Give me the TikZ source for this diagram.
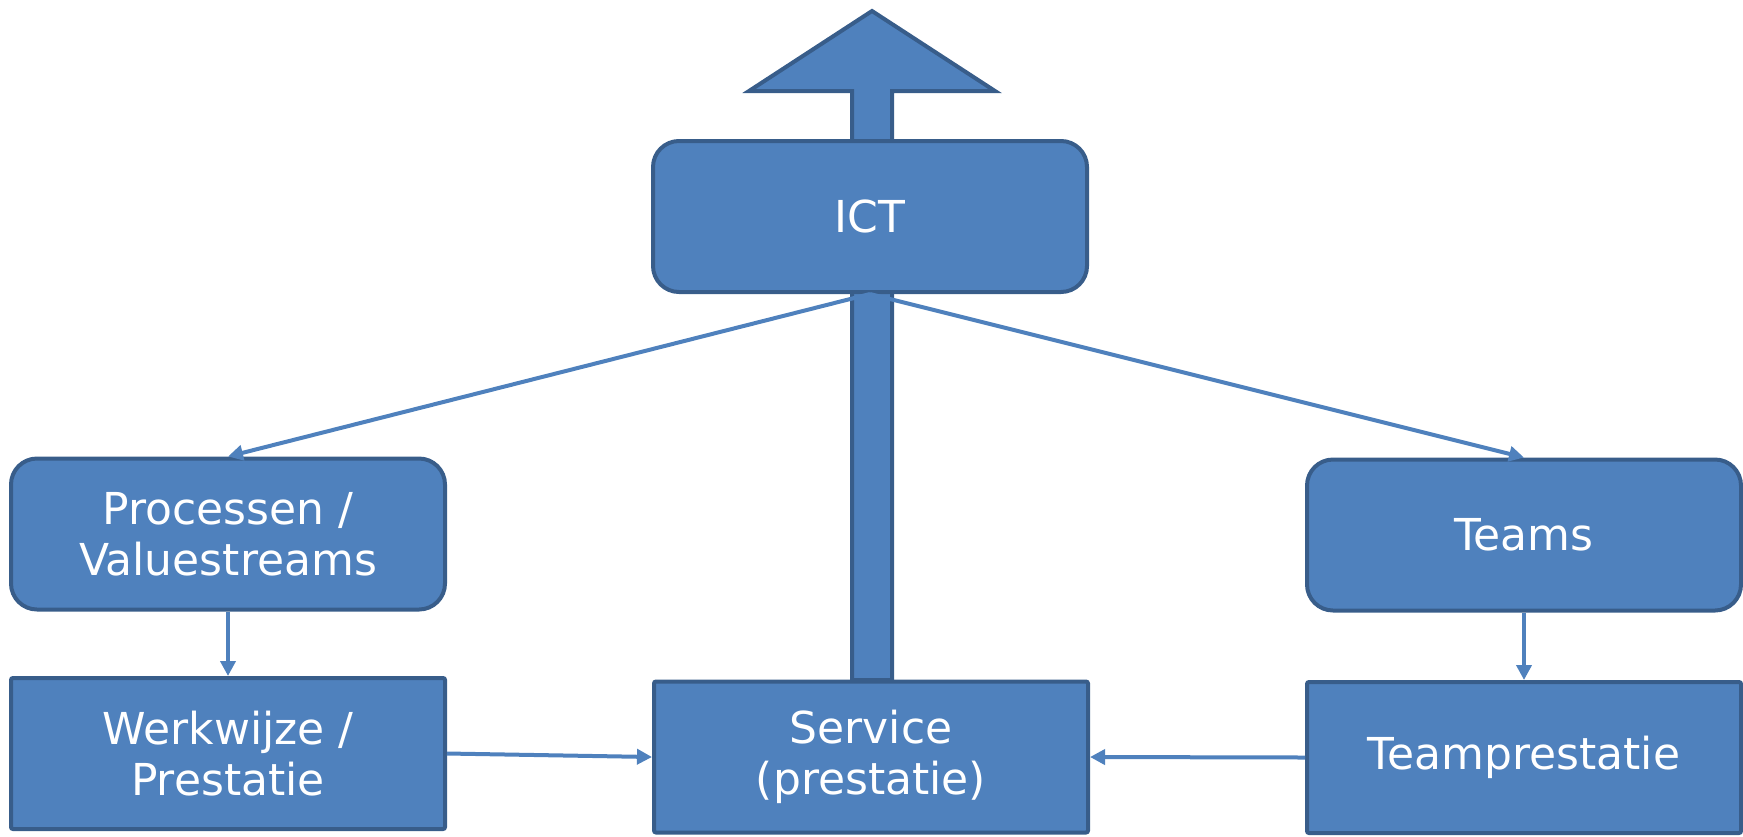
\documentclass[tikz,border=0pt]{standalone}
\usepackage{fontspec}
\setmainfont{DejaVu Sans}
\usetikzlibrary{arrows.meta}

\definecolor{boxfill}{HTML}{4F81BD}
\definecolor{boxline}{HTML}{385D8A}

\tikzset{
  basebox/.style={draw=boxline, fill=boxfill, line width=2pt, text=white,
    align=center, font=\fontsize{22}{25.5}\selectfont,
    minimum width=217pt, minimum height=75.5pt, inner sep=0pt},
  roundbox/.style={basebox, rounded corners=13pt},
  sqbox/.style={basebox, rounded corners=1pt},
  link/.style={draw=boxfill, line width=2pt, -{Triangle[length=7.5pt,width=7.5pt]}},
}

\begin{document}
\begin{tikzpicture}[x=0.5pt,y=-0.5pt]

% frame of the picture (pixel units):
\useasboundingbox (0,0) rectangle (1743,836);

% big arrow behind the boxes
\draw[draw=boxline, fill=boxfill, line width=2pt, line join=miter]
  (852,680) -- (852,91) -- (749,91) -- (872,11) -- (995,91) -- (892,91) -- (892,680) -- cycle;

% boxes
\node[roundbox] (ict)    at (870,216.5) {ICT};
\node[roundbox] (proc)   at (228,534)   {Processen /\\Valuestreams};
\node[roundbox] (teams)  at (1524,535)  {Teams};
\node[sqbox]    (werk)   at (228,753.5) {Werkwijze /\\Prestatie};
\node[sqbox]    (serv)   at (871,757)   {Service\\(prestatie)};
\node[sqbox]    (tprest) at (1524,757.5) {Teamprestatie};

% connectors
\draw[link] (ict.south) -- (proc.north);
\draw[link] (ict.south) -- (teams.north);
\draw[link] (proc.south) -- (werk.north);
\draw[link] (teams.south) -- (tprest.north);
\draw[link] (werk.east) -- (serv.west);
\draw[link] (tprest.west) -- (serv.east);

\end{tikzpicture}
\end{document}
